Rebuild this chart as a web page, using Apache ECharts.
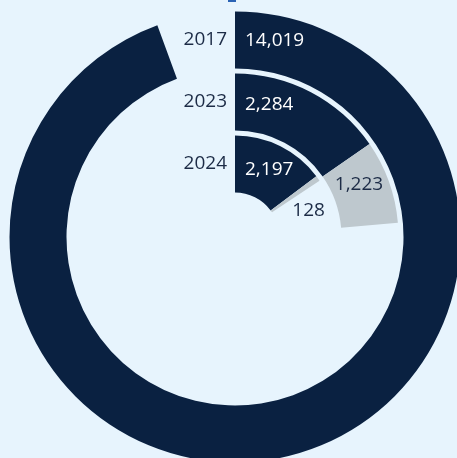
<!DOCTYPE html>
<html>
<head>
<meta charset="utf-8">
<script src="https://cdn.jsdelivr.net/npm/echarts@6/dist/echarts.min.js"></script>
<style>
  html, body { margin: 0; padding: 0; background: #e7f4fd; }
  #container { width: 457px; height: 458px; }
</style>
</head>
<body>
<div id="container"></div>
<script>
var years = ["2024", "2023", "2017"];
var mainValues = [2197, 2284, 14019];
var restValues = [128, 1223, null];
var angleMax = 14850;

var dom = document.getElementById("container");
var myChart = echarts.init(dom);

var navy = "#0a2141";
var grey = "#bec8ce";
var ink = "#1c2b46";

function fmt(v) {
  return echarts.format.addCommas(v);
}

// nudge the value labels a bit downward on the inner rings
var mainOffsets = [[0, 6], [0, 3], [0, 1]];
var mainData = mainValues.map(function (v, i) {
  return { value: v, label: { offset: mainOffsets[i] } };
});

// small tweaks so the grey labels sit like the original
var restData = restValues.map(function (v, i) {
  if (i === 0) {
    return { value: v, label: { offset: [14, 16] } };
  }
  if (i === 1) {
    return { value: v, label: { offset: [-3, -7] } };
  }
  return v;
});

var option = {
  backgroundColor: "#e7f4fd",
  textStyle: { fontFamily: "Open Sans" },
  graphic: [
    { type: "rect", shape: { x: 228, y: 0, width: 8, height: 2 }, style: { fill: "#2a63b5" } }
  ],
  polar: {
    center: [235, 237],
    radius: [42, 228]
  },
  angleAxis: {
    type: "value",
    min: 0,
    max: angleMax,
    startAngle: 90,
    clockwise: true,
    axisLine: { show: false },
    axisTick: { show: false },
    axisLabel: { show: false },
    splitLine: { show: false }
  },
  radiusAxis: {
    type: "category",
    data: years,
    axisLine: { show: false },
    axisTick: { show: false },
    axisLabel: {
      color: ink,
      fontSize: 19,
      fontFamily: "Open Sans",
      margin: 8
    },
    splitLine: { show: false }
  },
  series: [
    {
      type: "bar",
      coordinateSystem: "polar",
      stack: "a",
      barWidth: 57,
      data: mainData,
      itemStyle: { color: navy },
      label: {
        show: true,
        position: "insideStart",
        distance: 10,
        rotate: 0,
        color: "#ffffff",
        fontSize: 19,
        fontFamily: "Open Sans",
        formatter: function (p) { return fmt(p.value); }
      }
    },
    {
      type: "bar",
      coordinateSystem: "polar",
      stack: "a",
      barWidth: 57,
      data: restData,
      itemStyle: { color: grey },
      label: {
        show: true,
        position: "middle",
        rotate: 0,
        color: ink,
        fontSize: 19,
        fontFamily: "Open Sans",
        formatter: function (p) { return p.value == null ? "" : fmt(p.value); }
      }
    }
  ]
};

myChart.setOption(option);
</script>
</body>
</html>
